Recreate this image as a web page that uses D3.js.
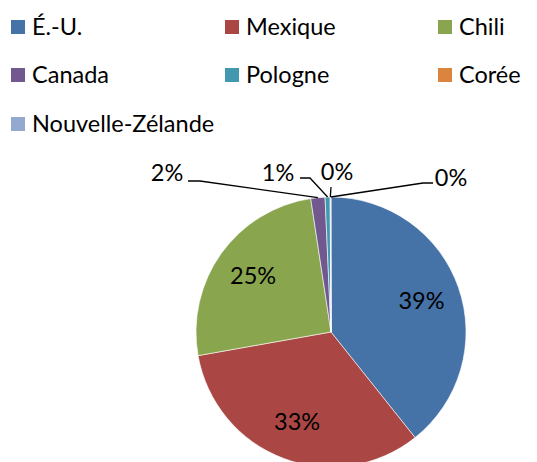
<!DOCTYPE html>
<html>
<head>
<meta charset="utf-8">
<script src="https://cdnjs.cloudflare.com/ajax/libs/d3/7.8.5/d3.min.js"></script>
<style>
  body { margin: 0; background: #fff; }
  text { font-family: Lato, "Open Sans", sans-serif; fill: #000; }
</style>
</head>
<body>
<div id="mainContainer"><svg></svg></div>
<script>
const categories = ["É.-U.", "Mexique", "Chili", "Canada", "Pologne", "Corée", "Nouvelle-Zélande"];
const shares = [39.3, 32.9, 25.4, 1.7, 0.6, 0.05, 0.05];
const colours = ["#4572A7", "#AA4643", "#89A54E", "#71588F", "#4198AF", "#DB843D", "#93A9CF"];

const SVG_WIDTH = 537;
const SVG_HEIGHT = 462;
const CX = 331, CY = 332, RADIUS = 135;
const FONT = "23.5px";

let svg = d3.select("#mainContainer").select("svg")
    .attr("width", SVG_WIDTH)
    .attr("height", SVG_HEIGHT);

// legend, 3 columns
const legendCols = [11, 225, 438];
const legendRows = [27, 75, 124];
let legend = svg.selectAll("g.legend")
    .data(categories)
    .enter()
    .append("g")
    .attr("class", "legend")
    .attr("transform", (d, i) => `translate(${legendCols[i % 3]},${legendRows[Math.floor(i / 3)]})`);
legend.append("rect")
    .attr("x", 0).attr("y", -7)
    .attr("width", 14).attr("height", 14)
    .attr("fill", (d, i) => colours[i]);
legend.append("text")
    .attr("x", 21).attr("y", 0)
    .attr("dy", "0.35em")
    .style("font-size", FONT)
    .text(d => d);

// pie
let pie = d3.pie().sort(null).value(d => d);
let arcs = pie(shares);
let arc = d3.arc().innerRadius(0).outerRadius(RADIUS);
let labelArc = d3.arc().innerRadius(RADIUS * 0.71).outerRadius(RADIUS * 0.71);

let g = svg.append("g").attr("transform", `translate(${CX},${CY})`);
g.selectAll("path")
    .data(arcs)
    .enter()
    .append("path")
    .attr("d", arc)
    .attr("fill", (d, i) => colours[i])
    .attr("stroke", "#fff")
    .attr("stroke-width", 0.6);

const fmt = d => Math.round(d.value) + "%";

// labels inside the big slices
g.selectAll("text.inside")
    .data(arcs.filter(d => d.value > 5))
    .enter()
    .append("text")
    .attr("class", "inside")
    .attr("transform", d => `translate(${labelArc.centroid(d)})`)
    .attr("text-anchor", "middle")
    .attr("dy", "0.35em")
    .style("font-size", FONT)
    .text(fmt);

// outside labels with leader lines: label centre and elbow, relative to pie centre
const outside = {
    3: { text: [-164, -159], elbow: [[-143, -151], [-131, -151]] },
    4: { text: [-53, -159], elbow: [[-31, -154], [-21, -154]] },
    5: { text: [6, -160], elbow: [[0, -145]] },
    6: { text: [120, -154], elbow: [[102, -149], [92, -149]] }
};
arcs.forEach((d, i) => {
    if (!outside[i]) return;
    let o = outside[i];
    let mid = (d.startAngle + d.endAngle) / 2;
    let edge = [Math.sin(mid) * RADIUS, -Math.cos(mid) * RADIUS];
    let pts = o.elbow.concat([edge]);
    g.append("path")
        .attr("d", d3.line()(pts))
        .attr("fill", "none")
        .attr("stroke", "#000")
        .attr("stroke-width", 1.3);
    g.append("text")
        .attr("x", o.text[0]).attr("y", o.text[1])
        .attr("text-anchor", "middle")
        .attr("dy", "0.35em")
        .style("font-size", FONT)
        .text(fmt(d));
});
</script>
</body>
</html>
